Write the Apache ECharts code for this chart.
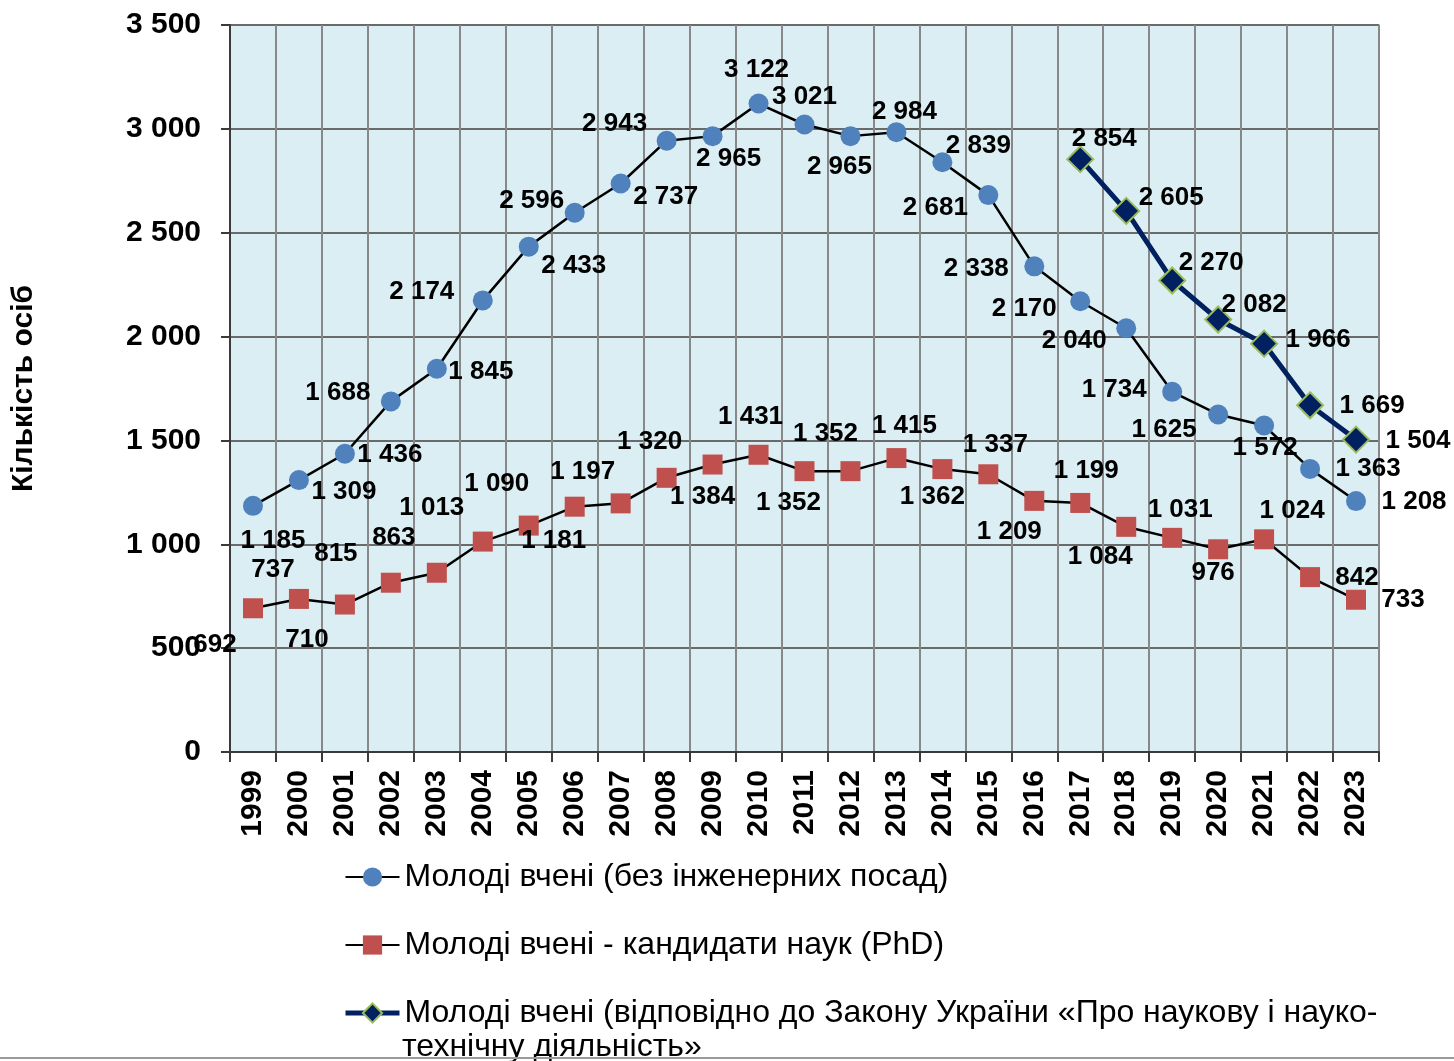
<!DOCTYPE html>
<html>
<head>
<meta charset="utf-8">
<title>Молоді вчені</title>
<script src="https://cdn.jsdelivr.net/npm/echarts@6/dist/echarts.min.js"></script>
<style>
    html, body { margin: 0; padding: 0; background: #fff; }
    #chart { width: 1454px; height: 1061px; }
</style>
</head>
<body>
<div id="chart"></div>
<script>
// роки
var years = ['1999', '2000', '2001', '2002', '2003', '2004', '2005', '2006', '2007', '2008', '2009', '2010',
    '2011', '2012', '2013', '2014', '2015', '2016', '2017', '2018', '2019', '2020', '2021', '2022', '2023'];

// Молоді вчені (без інженерних посад)
var youngAll = [1185, 1309, 1436, 1688, 1845, 2174, 2433, 2596, 2737, 2943, 2965, 3122,
    3021, 2965, 2984, 2839, 2681, 2338, 2170, 2040, 1734, 1625, 1572, 1363, 1208];

// Молоді вчені - кандидати наук (PhD)
var youngPhd = [692, 737, 710, 815, 863, 1013, 1090, 1181, 1197, 1320, 1384, 1431,
    1352, 1352, 1415, 1362, 1337, 1209, 1199, 1084, 1031, 976, 1024, 842, 733];

// Молоді вчені (за Законом), є тільки з 2017
var youngLaw = [null, null, null, null, null, null, null, null, null, null, null, null,
    null, null, null, null, null, null, 2854, 2605, 2270, 2082, 1966, 1669, 1504];

var yTicks = [0, 3500, 500];

var seriesNames = [
    'Молоді вчені (без інженерних посад)',
    'Молоді вчені - кандидати наук (PhD)',
    'Молоді вчені (відповідно до Закону України «Про наукову і науко-технічну діяльність»'
];

// зсуви підписів відносно точок (як у вихідній діаграмі)
var offsAll = [[20, 35], [45, 12], [45, 1], [-53, -9], [44, 3], [-61, -9], [45, 19], [-43, -12], [45, 13],
    [-52, -17], [16, 23], [-2, -34], [0, -28], [-11, 31], [8, -20], [36, -16], [-53, 13], [-58, 2],
    [-56, 8], [-52, 13], [-58, -2], [-54, 15], [1, 22], [58, 0], [58, 1]];
var offsPhd = [[-38, 37], [-26, -29], [-38, 35], [-55, -29], [-43, -35], [-51, -34], [-32, -42], [-21, 34],
    [-38, -32], [-17, -36], [-10, 32], [-8, -38], [21, -37], [-62, 32], [8, -32], [-10, 28], [7, -29],
    [-25, 31], [6, -32], [-26, 30], [8, -28], [-5, 24], [28, -28], [47, 1], [47, 0]];
var offsLaw = {18: [24, -20], 19: [45, -13], 20: [39, -18], 21: [36, -15], 22: [54, -4], 23: [62, 1], 24: [62, 1]};

function fmt(v) {
    return String(v).replace(/\B(?=(\d{3})+(?!\d))/g, ' ');
}

function withLabels(values, offs) {
    return values.map(function (v, i) {
        if (v === null) return null;
        return {value: v, label: {offset: offs[i]}};
    });
}

var labelStyle = {
    show: true,
    position: 'inside',
    fontFamily: 'Liberation Sans',
    fontWeight: 'bold',
    fontSize: 26,
    color: '#000',
    formatter: function (p) { return fmt(p.value); }
};

var myChart = echarts.init(document.getElementById('chart'));

var option = {
    animation: false,
    grid: {
        left: 230,
        right: 75,
        top: 25,
        bottom: 309,
        show: true,
        backgroundColor: '#DBEEF3',
        borderColor: '#c9c9c9',
        borderWidth: 2
    },
    legend: {
        orient: 'vertical',
        left: 343,
        top: 858,
        padding: 0,
        itemWidth: 54,
        itemHeight: 24,
        itemGap: 30,
        textStyle: {
            fontFamily: 'Liberation Sans',
            fontSize: 32,
            color: '#000',
            lineHeight: 38
        },
        formatter: function (name) {
            // друга частина третього підпису йде окремим рядком нижче
            return name.replace('діяльність»', '').replace('науко-технічну ', 'науко-');
        },
        data: [
            {name: seriesNames[0]},
            {name: seriesNames[1]},
            {name: seriesNames[2], lineStyle: {width: 5}}
        ]
    },
    graphic: [
        {
            type: 'text',
            left: 402,
            top: 1031,
            style: {
                text: 'технічну діяльність»',
                fontFamily: 'Liberation Sans',
                fontSize: 32,
                fill: '#000'
            }
        },
        {
            type: 'line',
            shape: {x1: 0, y1: 1058, x2: 1454, y2: 1058},
            style: {stroke: '#9a9a9a', lineWidth: 2}
        }
    ],
    xAxis: {
        type: 'category',
        data: years,
        boundaryGap: true,
        axisLine: {lineStyle: {color: '#3a3a3a', width: 2}},
        axisTick: {show: true, length: 10, lineStyle: {color: '#3a3a3a', width: 2}},
        axisLabel: {
            rotate: 90,
            margin: 18,
            fontFamily: 'Liberation Sans',
            fontWeight: 'bold',
            fontSize: 30,
            color: '#000'
        },
        splitLine: {show: true, lineStyle: {color: '#888', width: 2}}
    },
    yAxis: {
        type: 'value',
        min: yTicks[0],
        max: yTicks[1],
        interval: yTicks[2],
        name: 'Кількість осіб',
        nameLocation: 'middle',
        nameRotate: 90,
        nameGap: 191,
        nameTextStyle: {
            fontFamily: 'Liberation Sans',
            fontWeight: 'bold',
            fontSize: 30,
            color: '#000'
        },
        axisLine: {show: true, lineStyle: {color: '#3a3a3a', width: 2}},
        axisTick: {show: true, length: 9, lineStyle: {color: '#3a3a3a', width: 2}},
        axisLabel: {
            margin: 29,
            fontFamily: 'Liberation Sans',
            fontWeight: 'bold',
            fontSize: 30,
            color: '#000',
            formatter: function (v) { return fmt(v); }
        },
        splitLine: {show: true, lineStyle: {color: '#6a6a6a', width: 2}}
    },
    series: [
        {
            name: seriesNames[0],
            type: 'line',
            data: withLabels(youngAll, offsAll),
            symbol: 'circle',
            symbolSize: 20,
            itemStyle: {color: '#4F81BD'},
            lineStyle: {color: '#000', width: 2.5},
            label: labelStyle,
            z: 3
        },
        {
            name: seriesNames[1],
            type: 'line',
            data: withLabels(youngPhd, offsPhd),
            symbol: 'rect',
            symbolSize: 20,
            itemStyle: {color: '#C0504D'},
            lineStyle: {color: '#000', width: 2.5},
            label: labelStyle,
            z: 3
        },
        {
            name: seriesNames[2],
            type: 'line',
            data: withLabels(youngLaw, offsLaw),
            symbol: 'diamond',
            symbolSize: 26,
            itemStyle: {color: '#002060', borderColor: '#9BBB59', borderWidth: 2},
            lineStyle: {color: '#002060', width: 5},
            label: labelStyle,
            z: 4
        }
    ]
};

myChart.setOption(option);
</script>
</body>
</html>
